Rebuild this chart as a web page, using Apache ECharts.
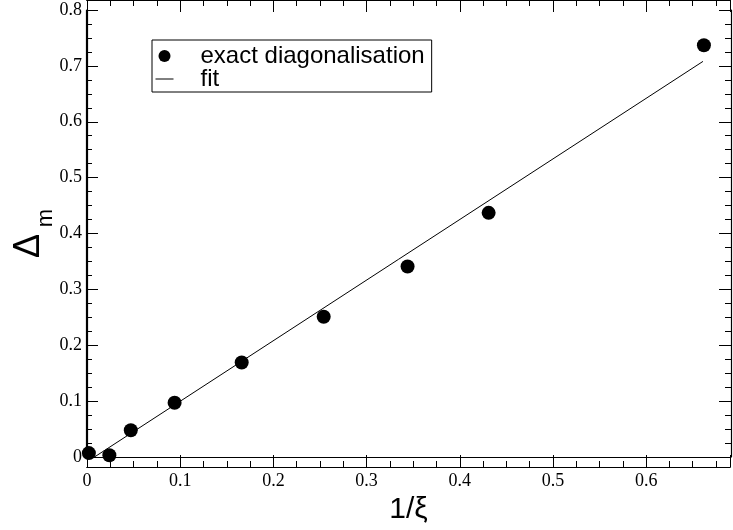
<!DOCTYPE html>
<html>
<head>
<meta charset="utf-8">
<script src="https://cdn.jsdelivr.net/npm/echarts@6/dist/echarts.min.js"></script>
<style>html,body{margin:0;padding:0;background:#fff}#c{width:733px;height:530px}</style>
</head>
<body>
<div id="c"></div>
<script>
// Data
const invXi = [0.002, 0.024, 0.047, 0.094, 0.166, 0.254, 0.344, 0.431, 0.662];
const deltaM = [0.007, 0.003, 0.048, 0.097, 0.169, 0.251, 0.341, 0.437, 0.737];
const fitX = [0.008, 0.661];
const fitY = [0.0, 0.708];
const xTicks = [0, 0.1, 0.2, 0.3, 0.4, 0.5, 0.6];
const yTicks = [0, 0.1, 0.2, 0.3, 0.4, 0.5, 0.6, 0.7, 0.8];

const W = 733, H = 530;
const G = {left: 87, right: 2, top: 10, bottom: 63};
const PW = W - G.left - G.right;   // plot width
const PH = H - G.top - G.bottom;   // plot height

const chart = echarts.init(document.getElementById('c'), null, {renderer: 'canvas'});
const serif = 'Liberation Serif';
const sans = 'Liberation Sans';
const X_MIN = 0, X_MAX = 0.69, Y_MIN = 0, Y_MAX = 0.8;

function near(list, v) { return list.some(t => Math.abs(t - v) < 1e-9); }
const line = {show: true, onZero: false, lineStyle: {color: '#000', width: 1.2}};

// Label axis (bottom): line + labels, no ticks
function xLabelAxis() {
  return {
    type: 'value', position: 'bottom', min: X_MIN, max: X_MAX, interval: 0.1,
    axisLine: line, axisTick: {show: false},
    axisLabel: {show: true, color: '#000', fontFamily: serif, fontSize: 18, margin: 15,
      formatter: v => near(xTicks, v) ? String(+v.toFixed(1)) : ''},
    splitLine: {show: false},
    name: '1/ξ', nameLocation: 'middle', nameGap: 38,
    nameTextStyle: {fontFamily: sans, fontSize: 30, color: '#000'}
  };
}
// Tick-only x axis placed on the opposite edge so outward ticks point into the plot
function xTickAxis(edge, interval, len) {
  return {
    type: 'value', position: edge === 'bottom' ? 'top' : 'bottom', offset: -PH,
    min: X_MIN, max: X_MAX, interval: interval,
    axisLine: line,
    axisTick: {show: true, inside: false, length: len, lineStyle: {color: '#000', width: 1}},
    axisLabel: {show: false}, splitLine: {show: false}
  };
}
function yLabelAxis() {
  return {
    type: 'value', position: 'left', min: Y_MIN, max: Y_MAX, interval: 0.1,
    axisLine: line, axisTick: {show: false},
    axisLabel: {show: true, color: '#000', fontFamily: serif, fontSize: 18, margin: 5,
      formatter: v => near(yTicks, v) ? String(+v.toFixed(1)) : ''},
    splitLine: {show: false}
  };
}
function yTickAxis(edge) {
  return {
    type: 'value', position: edge === 'left' ? 'right' : 'left', offset: -PW,
    min: Y_MIN, max: Y_MAX, interval: 0.1,
    axisLine: line,
    axisTick: {show: true, inside: false, length: 12, lineStyle: {color: '#000', width: 1}},
    minorTick: {show: true, splitNumber: 4, length: 6, lineStyle: {color: '#000', width: 1}},
    axisLabel: {show: false}, splitLine: {show: false}
  };
}

const option = {
  animation: false,
  backgroundColor: '#fff',
  grid: {left: G.left, right: G.right, top: G.top, bottom: G.bottom, containLabel: false},
  xAxis: [
    xLabelAxis(),
    xTickAxis('bottom', 0.1, 12),
    xTickAxis('bottom', 0.025, 6),
    xTickAxis('top', 0.1, 12),
    xTickAxis('top', 0.025, 6)
  ],
  yAxis: [yLabelAxis(), yTickAxis('left'), yTickAxis('right')],
  legend: {
    orient: 'vertical', left: 152, top: 40,
    borderColor: '#000', borderWidth: 1, borderRadius: 0,
    padding: [4, 7, 1, 3], itemGap: -1,
    itemWidth: 18, itemHeight: 12,
    textStyle: {fontFamily: sans, fontSize: 24, color: '#000',
      rich: {t: {fontFamily: sans, fontSize: 24, lineHeight: 24, color: '#000', padding: [0, 0, 0, 22]}}},
    formatter: '{t|{name}}',
    data: [
      {name: 'exact diagonalisation', icon: 'circle', itemStyle: {color: '#000', opacity: 1}},
      {name: 'fit', itemStyle: {opacity: 0}, lineStyle: {color: '#000', width: 1}}
    ]
  },
  graphic: [
    {type: 'text', x: 29, y: 246, rotation: Math.PI / 2,
     style: {text: 'Δ', font: '36px "Liberation Sans"', fill: '#000', align: 'center', verticalAlign: 'middle', textAlign: 'center', textVerticalAlign: 'middle'}},
    {type: 'text', x: 46, y: 218, rotation: Math.PI / 2,
     style: {text: 'm', font: '22px "Liberation Sans"', fill: '#000', align: 'center', verticalAlign: 'middle', textAlign: 'center', textVerticalAlign: 'middle'}}
  ],
  series: [
    {
      name: 'exact diagonalisation', type: 'scatter', xAxisIndex: 0, yAxisIndex: 0,
      symbol: 'circle', symbolSize: 14,
      itemStyle: {color: '#000', opacity: 1},
      data: invXi.map((x, i) => [x, deltaM[i]]),
      z: 3
    },
    {
      name: 'fit', type: 'line', xAxisIndex: 0, yAxisIndex: 0,
      symbol: 'none', showSymbol: false,
      lineStyle: {color: '#000', width: 1},
      itemStyle: {color: '#000'},
      data: fitX.map((x, i) => [x, fitY[i]]),
      z: 2
    }
  ]
};
chart.setOption(option);
</script>
</body>
</html>
